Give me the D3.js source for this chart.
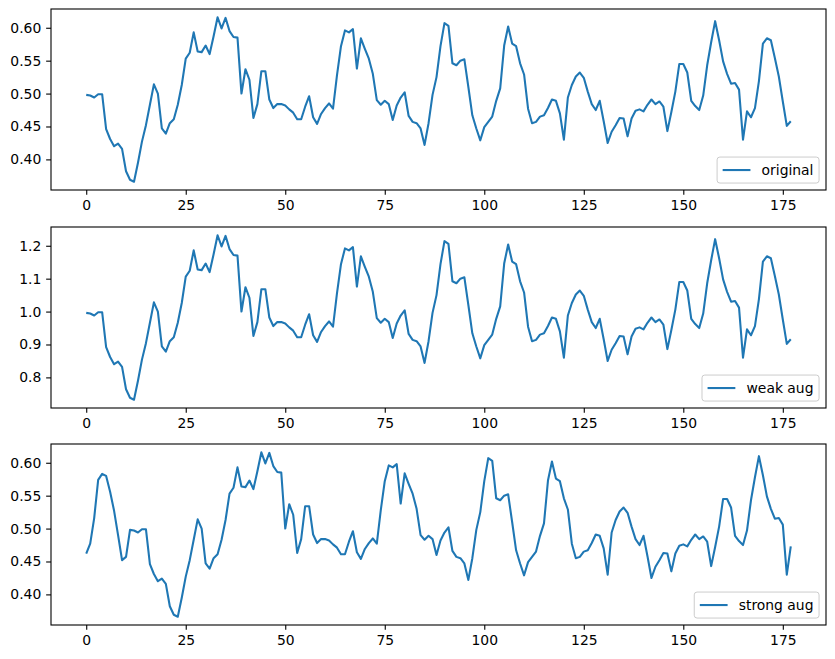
<!DOCTYPE html>
<html>
<head>
<meta charset="utf-8">
<script src="https://cdn.jsdelivr.net/npm/d3@7"></script>
<style>
  body { margin: 0; background: #fff; }
  text { font-family: "DejaVu Sans", sans-serif; }
</style>
</head>
<body>
<div id="vis"></div>
<script>
// Series (index 0..177)
const original = [
  0.498, 0.497, 0.494, 0.499, 0.499, 0.446, 0.431, 0.420, 0.424, 0.416,
  0.382, 0.369, 0.366, 0.395, 0.427, 0.452, 0.483, 0.514, 0.500, 0.447,
  0.439, 0.455, 0.461, 0.483, 0.513, 0.553, 0.562, 0.593, 0.564, 0.563,
  0.573, 0.560, 0.587, 0.616, 0.599, 0.615, 0.595, 0.586, 0.585, 0.500,
  0.537, 0.521, 0.463, 0.484, 0.534, 0.534, 0.491, 0.478, 0.484, 0.484,
  0.482, 0.476, 0.471, 0.461, 0.461, 0.480, 0.496, 0.464, 0.454, 0.469,
  0.478, 0.485, 0.477, 0.528, 0.572, 0.596, 0.593, 0.598, 0.538, 0.584,
  0.568, 0.553, 0.530, 0.490, 0.483, 0.489, 0.484, 0.460, 0.482, 0.494,
  0.502, 0.466, 0.457, 0.455, 0.447, 0.422, 0.455, 0.498, 0.525, 0.572,
  0.607, 0.603, 0.546, 0.543, 0.550, 0.552, 0.510, 0.467, 0.447, 0.429,
  0.449, 0.457, 0.465, 0.489, 0.508, 0.573, 0.602, 0.576, 0.572, 0.546,
  0.529, 0.477, 0.455, 0.457, 0.465, 0.467, 0.478, 0.491, 0.489, 0.470,
  0.430, 0.494, 0.513, 0.526, 0.532, 0.524, 0.503, 0.484, 0.475, 0.489,
  0.458, 0.425, 0.442, 0.452, 0.463, 0.462, 0.435, 0.462, 0.474, 0.476,
  0.473, 0.483, 0.491, 0.484, 0.488, 0.480, 0.443, 0.472, 0.503, 0.545,
  0.545, 0.532, 0.489, 0.481, 0.475, 0.497, 0.543, 0.578, 0.610, 0.581,
  0.549, 0.530, 0.515, 0.516, 0.506, 0.430, 0.473, 0.464, 0.478, 0.519,
  0.576, 0.584, 0.581, 0.554, 0.526, 0.488, 0.451, 0.458
];

const weakAug = [
  0.996, 0.994, 0.988, 0.998, 0.998, 0.892, 0.862, 0.840, 0.848, 0.832,
  0.764, 0.738, 0.732, 0.790, 0.854, 0.904, 0.966, 1.028, 1.000, 0.894,
  0.878, 0.910, 0.922, 0.966, 1.026, 1.106, 1.124, 1.186, 1.128, 1.126,
  1.146, 1.120, 1.174, 1.232, 1.198, 1.230, 1.190, 1.172, 1.170, 1.000,
  1.074, 1.042, 0.926, 0.968, 1.068, 1.068, 0.982, 0.956, 0.968, 0.968,
  0.964, 0.952, 0.942, 0.922, 0.922, 0.960, 0.992, 0.928, 0.908, 0.938,
  0.956, 0.970, 0.954, 1.056, 1.144, 1.192, 1.186, 1.196, 1.076, 1.168,
  1.136, 1.106, 1.060, 0.980, 0.966, 0.978, 0.968, 0.920, 0.964, 0.988,
  1.004, 0.932, 0.914, 0.910, 0.894, 0.844, 0.910, 0.996, 1.050, 1.144,
  1.214, 1.206, 1.092, 1.086, 1.100, 1.104, 1.020, 0.934, 0.894, 0.858,
  0.898, 0.914, 0.930, 0.978, 1.016, 1.146, 1.204, 1.152, 1.144, 1.092,
  1.058, 0.954, 0.910, 0.914, 0.930, 0.934, 0.956, 0.982, 0.978, 0.940,
  0.860, 0.988, 1.026, 1.052, 1.064, 1.048, 1.006, 0.968, 0.950, 0.978,
  0.916, 0.850, 0.884, 0.904, 0.926, 0.924, 0.870, 0.924, 0.948, 0.952,
  0.946, 0.966, 0.982, 0.968, 0.976, 0.960, 0.886, 0.944, 1.006, 1.090,
  1.090, 1.064, 0.978, 0.962, 0.950, 0.994, 1.086, 1.156, 1.220, 1.162,
  1.098, 1.060, 1.030, 1.032, 1.012, 0.860, 0.946, 0.928, 0.956, 1.038,
  1.152, 1.168, 1.162, 1.108, 1.052, 0.976, 0.902, 0.916
];

const strongAug = [
  0.462, 0.477, 0.516, 0.574, 0.583, 0.580, 0.556, 0.527, 0.490, 0.452,
  0.457, 0.498, 0.497, 0.494, 0.499, 0.499, 0.446, 0.431, 0.420, 0.424,
  0.416, 0.382, 0.369, 0.366, 0.395, 0.427, 0.452, 0.483, 0.514, 0.500,
  0.447, 0.439, 0.455, 0.461, 0.483, 0.513, 0.553, 0.562, 0.593, 0.564,
  0.563, 0.573, 0.560, 0.587, 0.616, 0.599, 0.615, 0.595, 0.586, 0.585,
  0.500, 0.537, 0.521, 0.463, 0.484, 0.534, 0.534, 0.491, 0.478, 0.484,
  0.484, 0.482, 0.476, 0.471, 0.461, 0.461, 0.480, 0.496, 0.464, 0.454,
  0.469, 0.478, 0.485, 0.477, 0.528, 0.572, 0.596, 0.593, 0.598, 0.538,
  0.584, 0.568, 0.553, 0.530, 0.490, 0.483, 0.489, 0.484, 0.460, 0.482,
  0.494, 0.502, 0.466, 0.457, 0.455, 0.447, 0.422, 0.455, 0.498, 0.525,
  0.572, 0.607, 0.603, 0.546, 0.543, 0.550, 0.552, 0.510, 0.467, 0.447,
  0.429, 0.449, 0.457, 0.465, 0.489, 0.508, 0.573, 0.602, 0.576, 0.572,
  0.546, 0.529, 0.477, 0.455, 0.457, 0.465, 0.467, 0.478, 0.491, 0.489,
  0.470, 0.430, 0.494, 0.513, 0.526, 0.532, 0.524, 0.503, 0.484, 0.475,
  0.489, 0.458, 0.425, 0.442, 0.452, 0.463, 0.462, 0.435, 0.462, 0.474,
  0.476, 0.473, 0.483, 0.491, 0.484, 0.488, 0.480, 0.443, 0.472, 0.503,
  0.545, 0.545, 0.532, 0.489, 0.481, 0.475, 0.497, 0.543, 0.578, 0.610,
  0.581, 0.549, 0.530, 0.515, 0.516, 0.506, 0.430, 0.473
];

const xTicks = [0, 25, 50, 75, 100, 125, 150, 175];
const yTicksSmall = [0.40, 0.45, 0.50, 0.55, 0.60];
const yTicksWeak = [0.8, 0.9, 1.0, 1.1, 1.2];
const seriesNames = ['original', 'weak aug', 'strong aug'];

const W = 835, H = 659;
const axLeft = 51, axWidth = 775, axHeight = 181;
const axTops = [9, 227, 444];
const fontSize = 13.9;
const tickLen = 4.86;
const lineColor = '#1f77b4';

const panels = [
  { values: original, name: seriesNames[0], ticks: yTicksSmall, fmt: '.2f' },
  { values: weakAug, name: seriesNames[1], ticks: yTicksWeak, fmt: '.1f' },
  { values: strongAug, name: seriesNames[2], ticks: yTicksSmall, fmt: '.2f' }
];

const svg = d3.select('#vis')
  .append('svg')
  .attr('width', W)
  .attr('height', H);

svg.append('rect').attr('width', W).attr('height', H).attr('fill', '#fff');

// matplotlib-like 5% margins
function padded(lo, hi) {
  const m = (hi - lo) * 0.05;
  return [lo - m, hi + m];
}

panels.forEach((p, k) => {
  const g = svg.append('g')
    .attr('transform', `translate(${axLeft},${axTops[k]})`);

  const xScale = d3.scaleLinear()
    .domain(padded(0, p.values.length - 1))
    .range([0, axWidth]);

  const yScale = d3.scaleLinear()
    .domain(padded(d3.min(p.values), d3.max(p.values)))
    .range([axHeight, 0]);

  // x axis
  const xAxis = g.append('g')
    .attr('transform', `translate(0,${axHeight})`)
    .call(d3.axisBottom(xScale).tickValues(xTicks).tickSize(tickLen).tickSizeOuter(0).tickPadding(4.86).tickFormat(d3.format('d')));

  // y axis
  const yAxis = g.append('g')
    .call(d3.axisLeft(yScale).tickValues(p.ticks).tickSize(tickLen).tickSizeOuter(0).tickPadding(4.86).tickFormat(d3.format(p.fmt)));

  [xAxis, yAxis].forEach(a => {
    a.select('.domain').remove();
    a.selectAll('line').attr('stroke', '#000').attr('stroke-width', 1.1);
    a.selectAll('text')
      .attr('fill', '#000')
      .style('font-size', fontSize + 'px')
      .style('font-family', '"DejaVu Sans", sans-serif');
  });

  // the line
  const line = d3.line()
    .x((d, i) => xScale(i))
    .y(d => yScale(d));

  g.append('path')
    .datum(p.values)
    .attr('d', line)
    .attr('fill', 'none')
    .attr('stroke', lineColor)
    .attr('stroke-width', 2.08)
    .attr('stroke-linejoin', 'round');

  // frame
  g.append('rect')
    .attr('width', axWidth)
    .attr('height', axHeight)
    .attr('fill', 'none')
    .attr('stroke', '#000')
    .attr('stroke-width', 1.1);

  // legend, lower right
  const pad = 0.5 * fontSize;
  const borderPad = 0.4 * fontSize;
  const handleLen = 2.0 * fontSize;
  const handleGap = 0.8 * fontSize;
  const legH = 26;

  const leg = g.append('g');
  const legBox = leg.append('rect');
  const legText = leg.append('text')
    .text(p.name)
    .style('font-size', fontSize + 'px')
    .attr('fill', '#000')
    .attr('dominant-baseline', 'central');
  const tw = legText.node().getComputedTextLength();
  const legW = borderPad * 2 + handleLen + handleGap + tw;
  const lx = axWidth - pad - legW;
  const ly = axHeight - pad - legH;

  legBox
    .attr('x', lx).attr('y', ly)
    .attr('width', legW).attr('height', legH)
    .attr('rx', 2.8)
    .attr('fill', '#fff').attr('fill-opacity', 0.8)
    .attr('stroke', '#cccccc').attr('stroke-width', 1);

  leg.append('line')
    .attr('x1', lx + borderPad).attr('x2', lx + borderPad + handleLen)
    .attr('y1', ly + legH / 2).attr('y2', ly + legH / 2)
    .attr('stroke', lineColor).attr('stroke-width', 2.08);

  legText
    .attr('x', lx + borderPad + handleLen + handleGap)
    .attr('y', ly + legH / 2);
});
</script>
</body>
</html>
